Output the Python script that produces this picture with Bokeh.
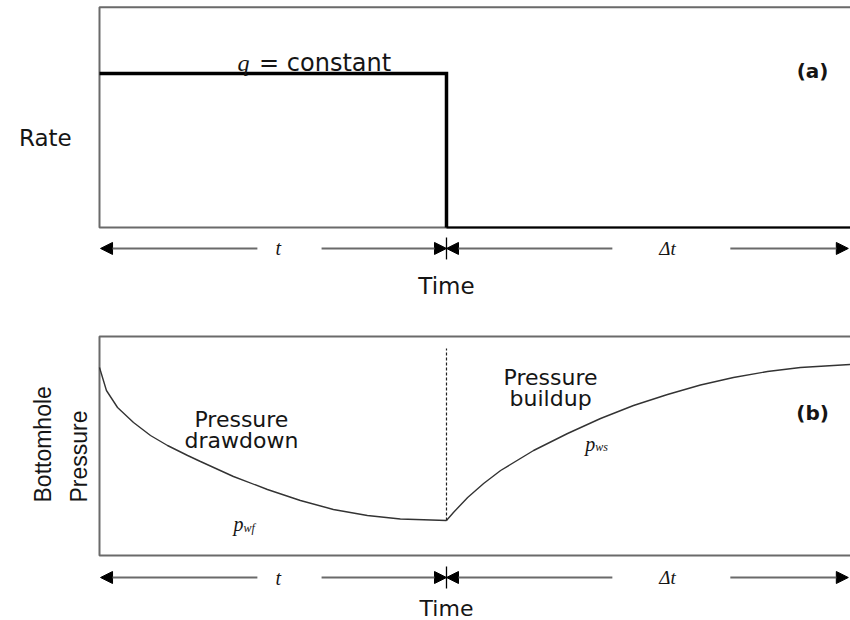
import math
from bokeh.plotting import figure
from bokeh.models import Range1d, Label, Arrow, NormalHead
from bokeh.layouts import column
from bokeh.embed import file_html
from bokeh.resources import INLINE

# ---------------- data ----------------
shut_in_time = 10.0                      # producing time t (h)
end_time = 22.6                          # end of the shut-in period
rate_time = [0.0, 10.0, 10.0, 22.6]
rate_value = [1.0, 1.0, 0.0, 0.0]        # q = constant, then shut in

drawdown_t = [0.0, 0.2, 0.52, 0.98, 1.47, 1.96, 2.54, 2.91, 3.86, 4.84, 5.79, 6.74, 7.72, 8.67, 10.0]
drawdown_p = [3000, 2770, 2600, 2450, 2320, 2220, 2120, 2060, 1910, 1780, 1670, 1580, 1520, 1485, 1470]

buildup_dt = [0.0, 0.2, 0.61, 1.07, 1.56, 2.51, 3.49, 4.44, 5.39, 6.37, 7.32, 8.27, 9.25, 10.2, 11.64]
buildup_p = [1470, 1550, 1700, 1840, 1970, 2170, 2340, 2490, 2620, 2730, 2825, 2900, 2960, 3000, 3030]

rate_box = (0.0, 1.43)                   # rate panel frame (bottom, top)
pressure_box = (1120, 3310)              # pressure panel frame (bottom, top)

# ---------------- layout / style ----------------
X_RANGE = (-2.853, 21.643)
BOX_COLOR = "#6a6a6a"
ARROW_COLOR = "#6a6a6a"
TEXT_COLOR = "#151515"
SANS = "DejaVu Sans"
SERIF = "Liberation Serif"


def make_fig(yr, h):
    p = figure(width=850, height=h, x_range=Range1d(*X_RANGE), y_range=Range1d(*yr),
               output_backend="svg", toolbar_location=None, min_border=0,
               x_axis_location=None, y_axis_location=None)
    p.xgrid.visible = False
    p.ygrid.visible = False
    p.outline_line_color = None
    p.background_fill_color = "white"
    p.border_fill_color = "white"
    return p


def lab(p, x, y, text, size, font=SANS, style="normal", align="center", baseline="alphabetic", angle=0.0):
    p.add_layout(Label(x=x, y=y, text=text, text_font=font, text_font_size=f"{size}px",
                       text_font_style=style, text_align=align, text_baseline=baseline,
                       text_color=TEXT_COLOR, angle=angle))


def time_arrows(p, y, tick_px=22):
    spans = [(4.55, 0.03), (6.40, shut_in_time), (14.78, shut_in_time), (18.18, 21.58)]
    for (xs, xe) in spans:
        p.add_layout(Arrow(end=NormalHead(size=12, fill_color="black", line_color="black", line_width=1),
                           x_start=xs, y_start=y, x_end=xe, y_end=y,
                           line_color=ARROW_COLOR, line_width=2))
    p.scatter(x=[shut_in_time], y=[y], marker="dash", angle=math.pi / 2, size=tick_px,
              line_color="black", line_width=1.3)
    lab(p, 5.15, y, "t", 20, font=SERIF, style="italic", baseline="middle")
    lab(p, 16.37, y, "\u0394t", 19, font=SERIF, style="italic", baseline="middle")


# ---------------- (a) rate panel ----------------
pa = make_fig((-0.539, 1.474), 310)
pa.quad(left=[0], right=[end_time], bottom=[rate_box[0]], top=[rate_box[1]],
        fill_color=None, line_color=BOX_COLOR, line_width=2)
pa.line(rate_time[:3], rate_value[:3], line_color="black", line_width=3.5, line_join="miter")
pa.line(rate_time[2:], rate_value[2:], line_color="black", line_width=2.2)
lab(pa, 4.15, 1.065, "q", 24, font=SERIF, style="italic")
lab(pa, 4.60, 1.065, "= constant", 24, align="left")
lab(pa, 20.55, 1.013, "(a)", 20, style="bold", baseline="middle")
lab(pa, -1.56, 0.578, "Rate", 23)
time_arrows(pa, -0.136)
lab(pa, shut_in_time, -0.377, "Time", 23)

# ---------------- (b) pressure panel ----------------
pb = make_fig((470, 3570), 310)
pb.quad(left=[0], right=[end_time], bottom=[pressure_box[0]], top=[pressure_box[1]],
        fill_color=None, line_color=BOX_COLOR, line_width=2)
pb.line(drawdown_t, drawdown_p, line_color="#333333", line_width=1.4)
pb.line([shut_in_time + d for d in buildup_dt], buildup_p, line_color="#333333", line_width=1.4)
pb.segment(x0=[shut_in_time], x1=[shut_in_time], y0=[drawdown_p[-1]], y1=[3190],
           line_color="#222222", line_width=1.2, line_dash="3 2")

lab(pb, 4.09, 2480, "Pressure", 22)
lab(pb, 4.09, 2270, "drawdown", 22)
lab(pb, 13.0, 2900, "Pressure", 22)
lab(pb, 13.0, 2690, "buildup", 22)
lab(pb, 3.86, 1440, "p", 20, font=SERIF, style="italic", align="left")
lab(pb, 4.15, 1400, "wf", 12, font=SERIF, style="italic", align="left")
lab(pb, 14.0, 2240, "p", 20, font=SERIF, style="italic", align="left")
lab(pb, 14.29, 2210, "ws", 12, font=SERIF, style="italic", align="left")
lab(pb, 20.55, 2550, "(b)", 20, style="bold", baseline="middle")
lab(pb, -1.64, 1650, "Bottomhole", 23, font="Liberation Sans", align="left", baseline="middle", angle=math.pi / 2)
lab(pb, -0.58, 1650, "Pressure", 23, font="Liberation Sans", align="left", baseline="middle", angle=math.pi / 2)
time_arrows(pb, 900)
lab(pb, shut_in_time, 590, "Time", 22)

layout = column(pa, pb, spacing=0)
open("out.html", "w").write(file_html(layout, INLINE))
